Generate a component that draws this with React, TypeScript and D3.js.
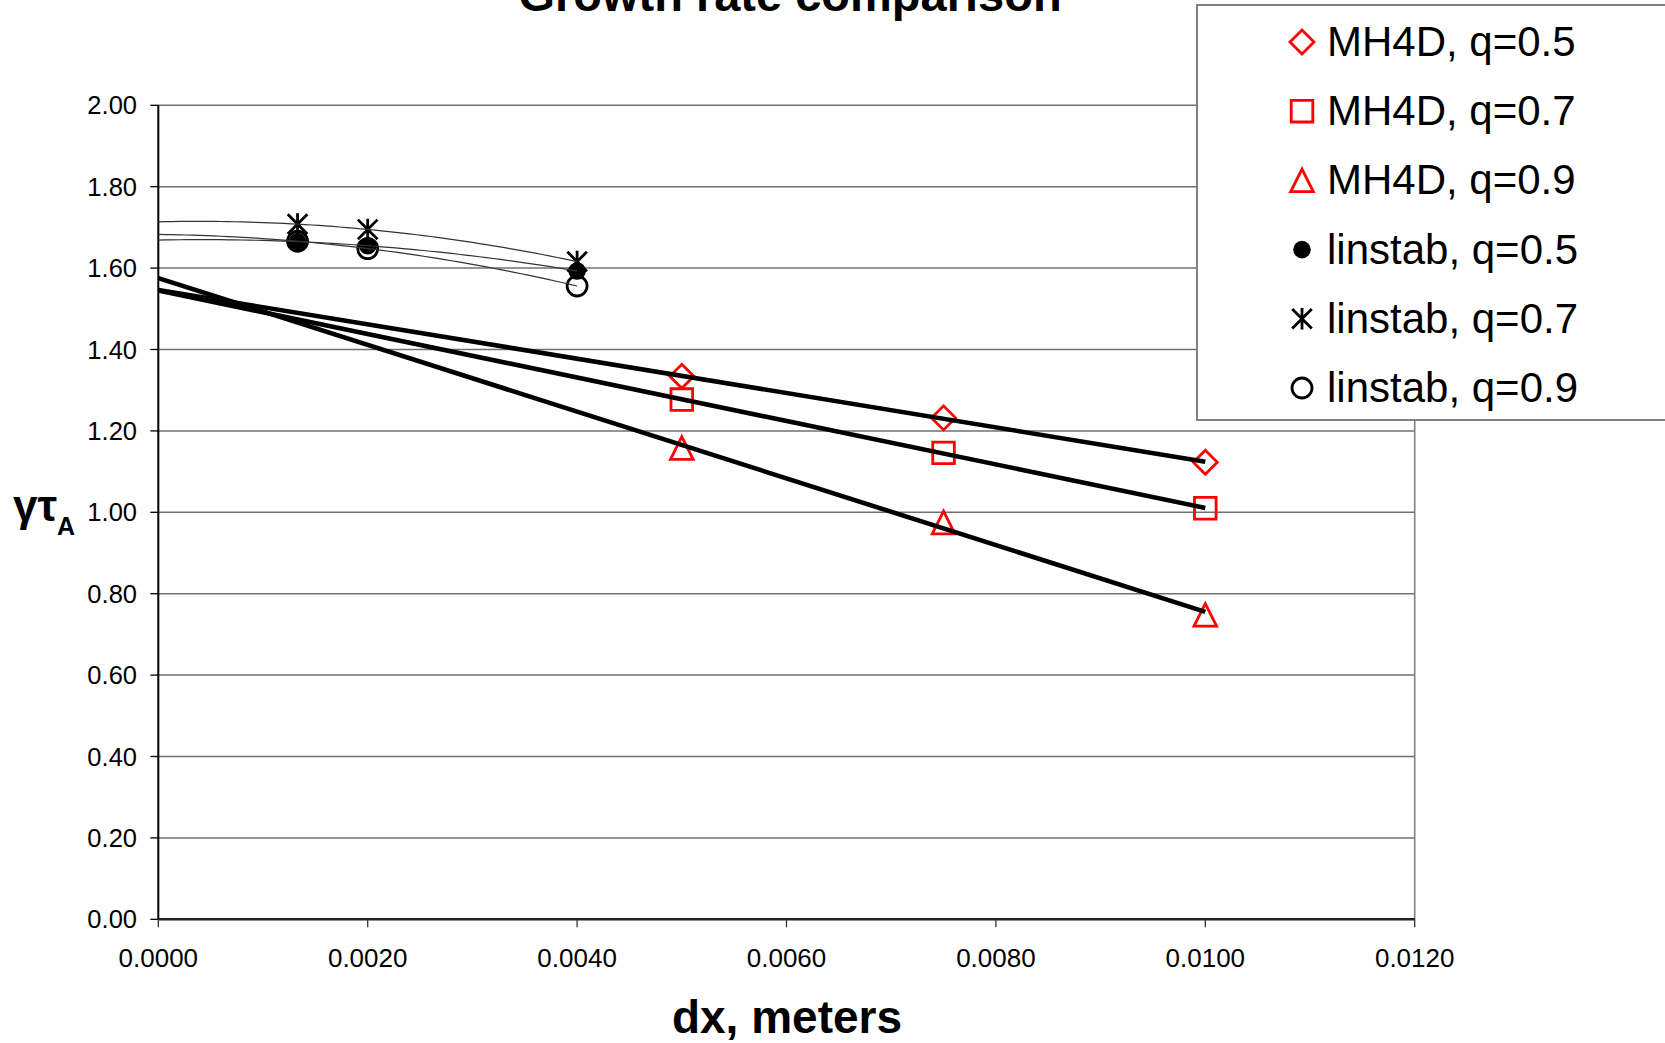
import React from "react";
import * as d3 from "d3";

const dxMH4D = [0.005, 0.0075, 0.01];
const mh4dQ05 = [1.334, 1.232, 1.123];
const mh4dQ07 = [1.277, 1.146, 1.01];
const mh4dQ09 = [1.158, 0.975, 0.748];

const dxLinstab = [0.00133, 0.002, 0.004];
const linstabQ05 = [1.665, 1.655, 1.593];
const linstabQ07 = [1.708, 1.695, 1.616];
const linstabQ09 = [1.666, 1.648, 1.556];

const yTicks = [0, 0.2, 0.4, 0.6, 0.8, 1.0, 1.2, 1.4, 1.6, 1.8, 2.0];
const xTicks = [0, 0.002, 0.004, 0.006, 0.008, 0.01, 0.012];

const legendLabels = [
  "MH4D, q=0.5",
  "MH4D, q=0.7",
  "MH4D, q=0.9",
  "linstab, q=0.5",
  "linstab, q=0.7",
  "linstab, q=0.9",
];
const legendMarkers = ["diamond", "square", "triangle", "dot", "star", "circle"];

const W = 1665;
const H = 1043;
const FONT = "'Liberation Sans', Arial, sans-serif";

function linFit(xs: number[], ys: number[]) {
  const mx = d3.mean(xs)!;
  const my = d3.mean(ys)!;
  let num = 0;
  let den = 0;
  xs.forEach((x, i) => {
    num += (x - mx) * (ys[i] - my);
    den += (x - mx) * (x - mx);
  });
  const b = num / den;
  const a = my - b * mx;
  return (x: number) => a + b * x;
}

function quadFit(xs: number[], ys: number[]) {
  const us = xs.map((x) => x * 1000);
  const M = [
    [0, 0, 0, 0],
    [0, 0, 0, 0],
    [0, 0, 0, 0],
  ];
  us.forEach((u, k) => {
    const p = [1, u, u * u];
    for (let i = 0; i < 3; i++) {
      for (let j = 0; j < 3; j++) M[i][j] += p[i] * p[j];
      M[i][3] += p[i] * ys[k];
    }
  });
  for (let i = 0; i < 3; i++) {
    let piv = i;
    for (let r = i + 1; r < 3; r++) if (Math.abs(M[r][i]) > Math.abs(M[piv][i])) piv = r;
    [M[i], M[piv]] = [M[piv], M[i]];
    for (let r = 0; r < 3; r++) {
      if (r === i) continue;
      const f = M[r][i] / M[i][i];
      for (let c = i; c < 4; c++) M[r][c] -= f * M[i][c];
    }
  }
  const c = [M[0][3] / M[0][0], M[1][3] / M[1][1], M[2][3] / M[2][2]];
  return (x: number) => {
    const u = x * 1000;
    return c[0] + c[1] * u + c[2] * u * u;
  };
}

function markerPath(type: string, cx: number, cy: number): string {
  const p = d3.path();
  if (type === "diamond") {
    const s = 12;
    p.moveTo(cx, cy - s);
    p.lineTo(cx + s, cy);
    p.lineTo(cx, cy + s);
    p.lineTo(cx - s, cy);
    p.closePath();
  } else if (type === "square") {
    const s = 10.8;
    p.rect(cx - s, cy - s, 2 * s, 2 * s);
  } else if (type === "triangle") {
    const s = 11.3;
    p.moveTo(cx, cy - s);
    p.lineTo(cx + s, cy + s);
    p.lineTo(cx - s, cy + s);
    p.closePath();
  } else if (type === "star") {
    const s = 9.8;
    p.moveTo(cx - s, cy - s);
    p.lineTo(cx + s, cy + s);
    p.moveTo(cx + s, cy - s);
    p.lineTo(cx - s, cy + s);
    p.moveTo(cx, cy - s - 1);
    p.lineTo(cx, cy + s + 1);
  } else if (type === "circle") {
    p.arc(cx, cy, 10, 0, Math.PI * 2);
  } else if (type === "dot") {
    p.arc(cx, cy, 8.8, 0, Math.PI * 2);
  }
  return p.toString();
}

function Marker({ type, cx, cy }: { type: string; cx: number; cy: number }) {
  const red = type === "diamond" || type === "square" || type === "triangle";
  const color = red ? "#ff0000" : "#000000";
  const filled = type === "dot";
  return (
    <path
      d={markerPath(type, cx, cy)}
      fill={filled ? color : "none"}
      stroke={color}
      strokeWidth={filled ? 0 : 2.8}
    />
  );
}

export default function App() {
  const x = d3.scaleLinear().domain([0, 0.012]).range([158.3, 1414.7]);
  const y = d3.scaleLinear().domain([0, 2]).range([919.3, 105.3]);

  const mhSeries = [
    { vals: mh4dQ05, marker: "diamond" },
    { vals: mh4dQ07, marker: "square" },
    { vals: mh4dQ09, marker: "triangle" },
  ];
  const lsSeries = [
    { vals: linstabQ05, marker: "dot" },
    { vals: linstabQ07, marker: "star" },
    { vals: linstabQ09, marker: "circle" },
  ];

  const line = d3
    .line<[number, number]>()
    .x((d) => x(d[0]))
    .y((d) => y(d[1]));

  const xMaxMH = d3.max(dxMH4D)!;
  const xMaxLS = d3.max(dxLinstab)!;
  const samples = d3.range(0, 61).map((i) => (xMaxLS * i) / 60);

  return (
    <svg
      width={W}
      height={H}
      style={{ position: "absolute", left: 0, top: 0, background: "#fff" }}
      fontFamily={FONT}
    >
      <rect x={0} y={0} width={W} height={H} fill="#ffffff" />
      <text x={790} y={11} textAnchor="middle" fontSize={47} fontWeight="bold">
        Growth rate comparison
      </text>

      {yTicks.map((t) => (
        <line
          key={"g" + t}
          x1={x(0)}
          x2={x(0.012)}
          y1={y(t)}
          y2={y(t)}
          stroke="#707070"
          strokeWidth={1.5}
        />
      ))}
      <line x1={x(0.012)} x2={x(0.012)} y1={y(2)} y2={y(0)} stroke="#808080" strokeWidth={1.6} />

      <line x1={x(0)} x2={x(0)} y1={y(2)} y2={y(0)} stroke="#000" strokeWidth={2} />
      <line x1={x(0)} x2={x(0.012)} y1={y(0)} y2={y(0)} stroke="#222" strokeWidth={2.4} />
      {yTicks.map((t) => (
        <g key={"yt" + t}>
          <line x1={x(0) - 8} x2={x(0)} y1={y(t)} y2={y(t)} stroke="#000" strokeWidth={1.3} />
          <text x={137} y={y(t) + 9} textAnchor="end" fontSize={25.5}>
            {t.toFixed(2)}
          </text>
        </g>
      ))}
      {xTicks.map((t) => (
        <g key={"xt" + t}>
          <line x1={x(t)} x2={x(t)} y1={y(0)} y2={y(0) + 8} stroke="#333" strokeWidth={1.3} />
          <text x={x(t)} y={967} textAnchor="middle" fontSize={26}>
            {t.toFixed(4)}
          </text>
        </g>
      ))}

      <text x={787} y={1033} textAnchor="middle" fontSize={46} fontWeight="bold">
        dx, meters
      </text>
      <text x={13} y={521} fontSize={44} fontWeight="bold">
        γτ
        <tspan fontSize={25} dy={14}>
          A
        </tspan>
      </text>

      {mhSeries.map((s) =>
        s.vals.map((v, i) => (
          <Marker key={s.marker + i} type={s.marker} cx={x(dxMH4D[i])} cy={y(v)} />
        ))
      )}
      {lsSeries.map((s) =>
        s.vals.map((v, i) => (
          <Marker key={s.marker + i} type={s.marker} cx={x(dxLinstab[i])} cy={y(v)} />
        ))
      )}

      {mhSeries.map((s) => {
        const f = linFit(dxMH4D, s.vals);
        return (
          <path
            key={"lt" + s.marker}
            d={line([
              [0, f(0)],
              [xMaxMH, f(xMaxMH)],
            ])!}
            stroke="#000"
            strokeWidth={4.6}
            fill="none"
          />
        );
      })}
      {lsSeries.map((s) => {
        const f = quadFit(dxLinstab, s.vals);
        return (
          <path
            key={"pt" + s.marker}
            d={line(samples.map((sx) => [sx, f(sx)] as [number, number]))!}
            stroke="#333"
            strokeWidth={1.2}
            fill="none"
          />
        );
      })}

      <rect x={1197} y={5} width={520} height={415} fill="#ffffff" stroke="#808080" strokeWidth={2} />
      {legendLabels.map((lab, i) => {
        const cy = 42 + i * 69.2;
        return (
          <g key={lab}>
            <Marker type={legendMarkers[i]} cx={1302} cy={cy} />
            <text x={1327} y={cy + 14} fontSize={42}>
              {lab}
            </text>
          </g>
        );
      })}
    </svg>
  );
}
